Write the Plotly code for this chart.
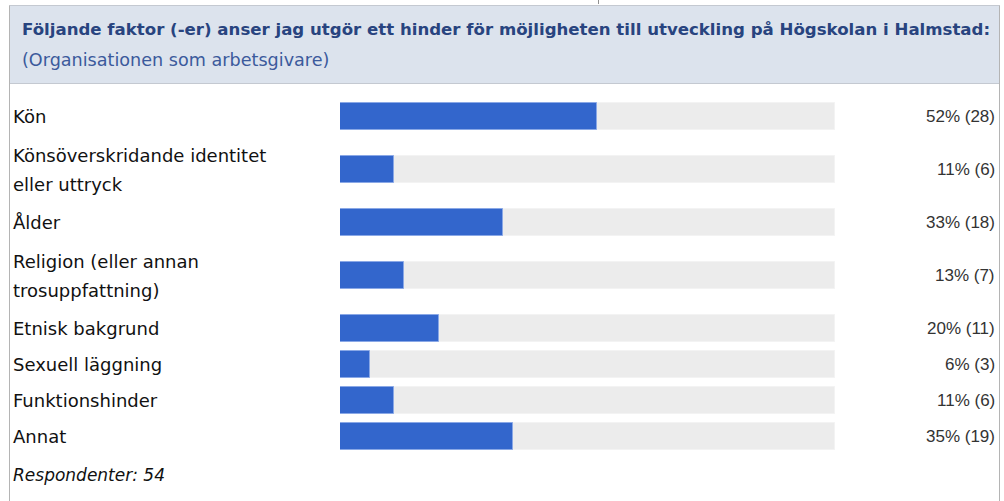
import plotly.graph_objects as go

W, H = 1004, 501

title = "Följande faktor (-er) anser jag utgör ett hinder för möjligheten till utveckling på Högskolan i Halmstad:"
subtitle = "(Organisationen som arbetsgivare)"
categories = [
    ["Kön"],
    ["Könsöverskridande identitet", "eller uttryck"],
    ["Ålder"],
    ["Religion (eller annan", "trosuppfattning)"],
    ["Etnisk bakgrund"],
    ["Sexuell läggning"],
    ["Funktionshinder"],
    ["Annat"],
]
percents = [52, 11, 33, 13, 20, 6, 11, 35]
counts = [28, 6, 18, 7, 11, 3, 6, 19]
respondents = 54
footer = f"Respondenter: {respondents}"

# layout in pixels
TOP = 98.5
ROW1 = 36
ROW_EXTRA = 34
LINE_GAP = 29
BAR_H = 27
BAR_X0, BAR_X1 = 340, 835

heights = [ROW1 + ROW_EXTRA * (len(c) - 1) for c in categories]
centers = []
acc = TOP
for h in heights:
    centers.append(acc + h / 2)
    acc += h
footer_y = acc + 20

fig = go.Figure()
fig.add_trace(go.Bar(
    x=[100] * len(categories), y=centers, orientation="h", width=BAR_H,
    marker=dict(color="#ececec", line=dict(color="#f3f3f3", width=1)),
    hoverinfo="skip", showlegend=False))
fig.add_trace(go.Bar(
    x=percents, y=centers, orientation="h", width=BAR_H,
    marker=dict(color="#3366cc", line=dict(color="#8aa8e6", width=1)),
    showlegend=False))

def px(x):
    return x / W

fig.update_layout(
    width=W, height=H, margin=dict(l=0, r=0, t=0, b=0),
    paper_bgcolor="white", plot_bgcolor="rgba(0,0,0,0)",
    barmode="overlay", bargap=0,
    xaxis=dict(range=[0, 100], domain=[px(BAR_X0), px(BAR_X1)], visible=False, fixedrange=True),
    yaxis=dict(range=[H, 0], domain=[0, 1], visible=False, fixedrange=True),
    showlegend=False,
)

shapes = [
    dict(type="rect", xref="paper", yref="y", x0=px(9.5), x1=px(999.5), y0=5.5, y1=83.5,
         fillcolor="#dce3ed", line=dict(color="#c4c9d1", width=1), layer="below"),
    dict(type="line", xref="paper", yref="y", x0=px(9.5), x1=px(9.5), y0=5.5, y1=H,
         line=dict(color="#b4b4b4", width=1)),
    dict(type="line", xref="paper", yref="y", x0=px(999.5), x1=px(999.5), y0=5.5, y1=H,
         line=dict(color="#b4b4b4", width=1)),
    dict(type="line", xref="paper", yref="y", x0=px(598.5), x1=px(598.5), y0=0, y1=4,
         line=dict(color="#909090", width=1)),
]
fig.update_layout(shapes=shapes)

ann = []
ann.append(dict(text=f"<b>{title}</b>", x=px(20), y=29, xref="paper", yref="y",
                xanchor="left", yanchor="middle", showarrow=False,
                font=dict(family="DejaVu Sans", size=16.6, color="#28447f")))
ann.append(dict(text=subtitle, x=px(20), y=60, xref="paper", yref="y",
                xanchor="left", yanchor="middle", showarrow=False,
                font=dict(family="DejaVu Sans", size=17.6, color="#3b5a9c")))
for lines, cy, p, n in zip(categories, centers, percents, counts):
    k = len(lines)
    for i, line in enumerate(lines):
        ly = cy + (i - (k - 1) / 2) * LINE_GAP
        ann.append(dict(text=line, x=px(11), y=ly, xref="paper", yref="y",
                        xanchor="left", yanchor="middle", showarrow=False,
                        font=dict(family="DejaVu Sans", size=18, color="#111111")))
    ann.append(dict(text=f"{p}% ({n})", x=px(997), y=cy, xref="paper", yref="y",
                    xanchor="right", yanchor="middle", showarrow=False,
                    font=dict(family="Liberation Sans", size=17, color="#333333")))
ann.append(dict(text=f"<i>{footer}</i>", x=px(11), y=footer_y, xref="paper", yref="y",
                xanchor="left", yanchor="middle", showarrow=False,
                font=dict(family="DejaVu Sans", size=17, color="#111111")))
fig.update_layout(annotations=ann)

fig.write_html("out.html", config={"displayModeBar": False},
               post_script="document.body.style.margin='0';document.body.style.overflow='hidden';")
